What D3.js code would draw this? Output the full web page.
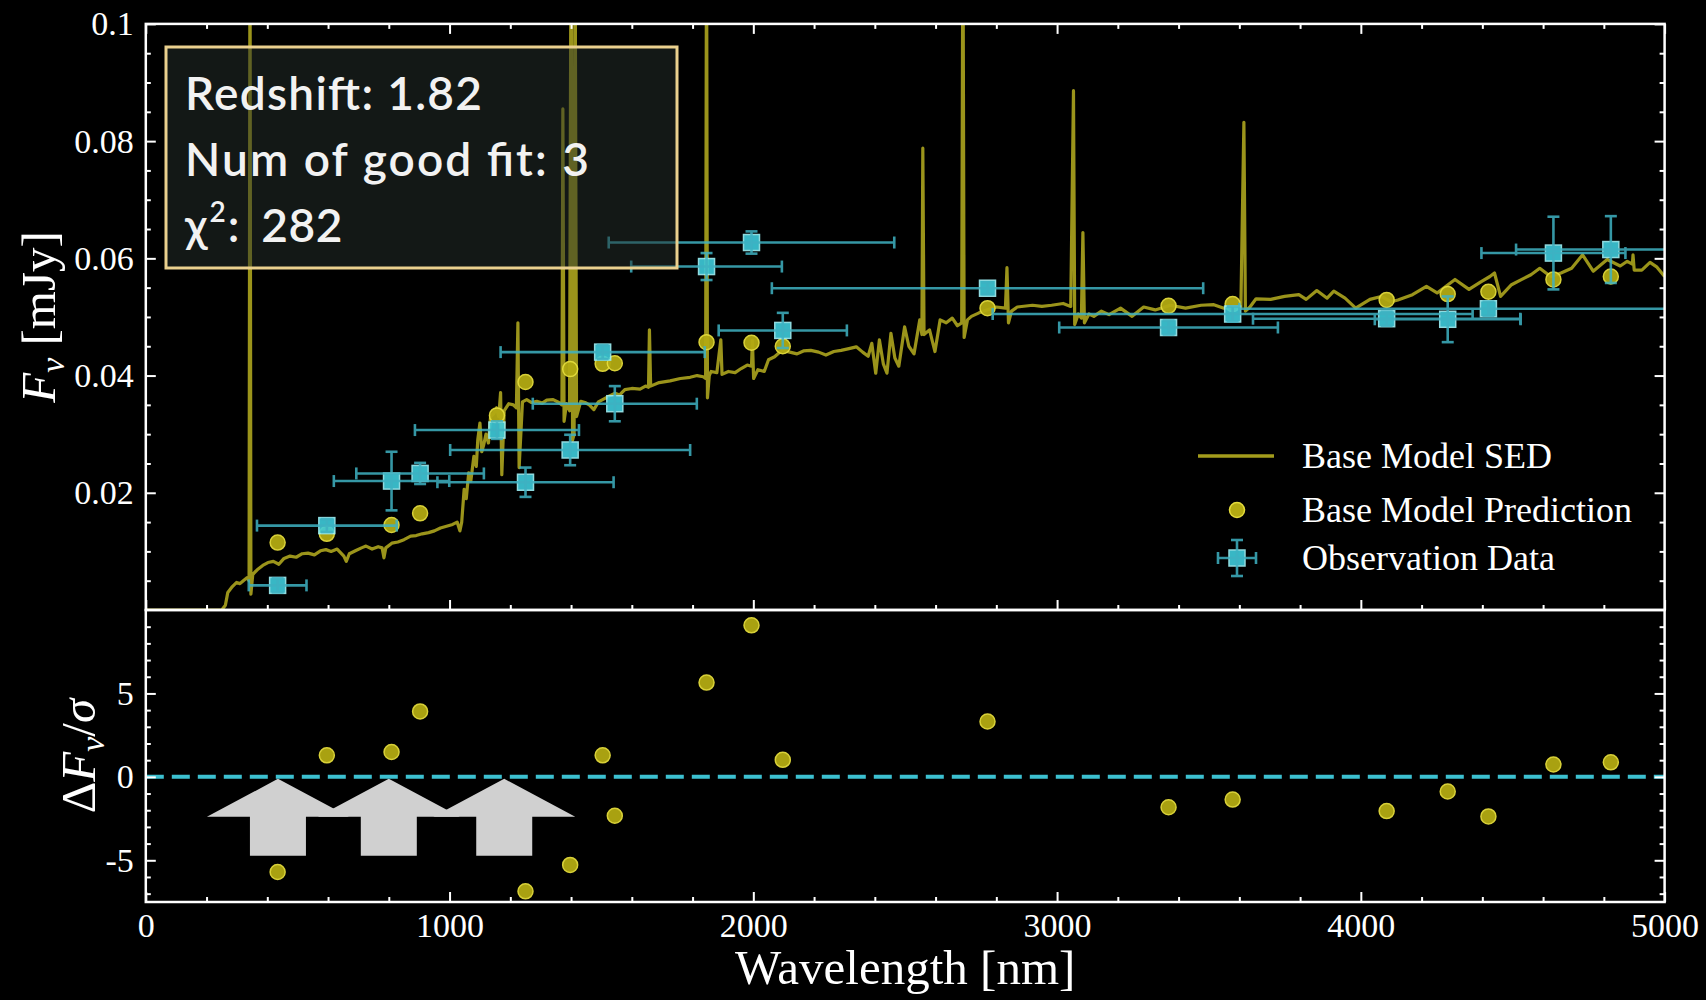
<!DOCTYPE html>
<html><head><meta charset="utf-8">
<script src="https://cdn.jsdelivr.net/npm/d3@7/dist/d3.min.js"></script>
<style>html,body{margin:0;padding:0;background:#000;} svg{display:block;}</style>
</head><body>
<svg id="chart" width="1706" height="1000"></svg>
<script>
// ---------------- DATA ----------------
const obsWavelength = [434, 596, 809, 903, 1156, 1250, 1397, 1504, 1544, 1846, 1994, 2097, 2771, 3367, 3578, 4085, 4286, 4420, 4634, 4823];
const obsFlux       = [0.0042, 0.0144, 0.0220, 0.0233, 0.0307, 0.0218, 0.0273, 0.0440, 0.0352, 0.0586, 0.0627, 0.0477, 0.0549, 0.0482, 0.0505, 0.0497, 0.0496, 0.0514, 0.0609, 0.0615];
const obsWidth      = [95, 230, 190, 210, 270, 290, 395, 336, 270, 248, 470, 211, 710, 360, 790, 440, 240, 820, 237, 312];
const obsError      = [0.0012, 0.0011, 0.0050, 0.0018, 0.0015, 0.0025, 0.0026, 0.0012, 0.0030, 0.0023, 0.0019, 0.0030, 0.0010, 0.0012, 0.0013, 0.0012, 0.0039, 0.0012, 0.0062, 0.0057];
const predFlux      = [0.0115, 0.0130, 0.0145, 0.0165, 0.0332, 0.0389, 0.0411, 0.0420, 0.0421, 0.0457, 0.0456, 0.0450, 0.0515, 0.0519, 0.0522, 0.0529, 0.0539, 0.0543, 0.0564, 0.0569];
const residual      = [-5.70, 1.29, 1.49, 3.92, -2.0, -6.86, -5.28, 1.29, -2.33, 5.65, 9.08, 1.02, 3.32, -1.82, -1.36, -2.05, -0.88, -2.37, 0.74, 0.87];

const sedWavelength = [0,250,262,270,285,299,310,321,333,340,343,346,352,358,370,385,402,420,438,455,475,495,515,534,555,575,593,610,630,652,660,670,690,710,725,745,765,778,784,790,810,830,850,872,890,910,931,950,970,990,1010,1025,1034,1040,1048,1055,1063,1070,1080,1088,1093,1100,1106,1112,1120,1128,1135,1145,1155,1162,1168,1172,1180,1195,1210,1220,1225,1229,1240,1254,1270,1287,1305,1320,1341,1360,1370,1373,1377,1385,1395,1400,1405,1410,1413,1418,1432,1446,1460,1475,1490,1504,1525,1545,1560,1577,1600,1627,1645,1655,1658,1662,1690,1726,1760,1792,1815,1835,1843,1846,1849,1855,1861,1880,1893,1897,1918,1940,1960,1980,1994,1997,2001,2015,2036,2050,2070,2094,2120,2144,2165,2189,2215,2239,2265,2289,2315,2339,2360,2378,2390,2403,2415,2428,2440,2453,2466,2479,2498,2512,2529,2548,2555,2558,2562,2580,2598,2615,2635,2655,2672,2686,2690,2694,2705,2718,2743,2769,2800,2830,2835,2840,2850,2869,2919,2950,2982,3020,3045,3054,3058,3070,3080,3085,3090,3105,3121,3146,3171,3209,3247,3285,3323,3373,3423,3474,3516,3549,3580,3605,3615,3620,3635,3655,3703,3749,3796,3820,3855,3889,3911,3948,3983,4030,4067,4100,4122,4170,4216,4251,4310,4356,4395,4425,4440,4460,4496,4530,4560,4589,4625,4659,4694,4730,4765,4811,4854,4877,4894,4896,4900,4925,4952,4975,5000];
const sedFlux = [0,0,0.0008,0.0030,0.0040,0.0047,0.0045,0.0050,0.0055,0.0050,0.1200,0.0027,0.0060,0.0064,0.0070,0.0076,0.0081,0.0083,0.0078,0.0088,0.0092,0.0090,0.0096,0.0097,0.0094,0.0101,0.0103,0.0100,0.0104,0.0092,0.0083,0.0096,0.0101,0.0106,0.0109,0.0104,0.0108,0.0106,0.0089,0.0106,0.0114,0.0116,0.0120,0.0126,0.0127,0.0130,0.0132,0.0135,0.0140,0.0143,0.0146,0.0150,0.0135,0.0150,0.0206,0.0190,0.0234,0.0220,0.0262,0.0245,0.0291,0.0319,0.0270,0.0281,0.0300,0.0285,0.0330,0.0335,0.0345,0.0330,0.0371,0.0231,0.0340,0.0352,0.0350,0.0345,0.0490,0.0243,0.0355,0.0359,0.0354,0.0356,0.0353,0.0358,0.0359,0.0354,0.0350,0.0855,0.0322,0.0352,0.0340,0.1200,0.0290,0.0300,0.1200,0.0330,0.0356,0.0354,0.0350,0.0342,0.0355,0.0359,0.0365,0.0370,0.0367,0.0376,0.0378,0.0377,0.0382,0.0380,0.0478,0.0382,0.0388,0.0391,0.0395,0.0397,0.0400,0.0398,0.0395,0.1200,0.0362,0.0400,0.0407,0.0405,0.0461,0.0402,0.0407,0.0405,0.0412,0.0418,0.0416,0.0460,0.0395,0.0410,0.0407,0.0427,0.0432,0.0443,0.0440,0.0437,0.0442,0.0443,0.0440,0.0435,0.0441,0.0443,0.0446,0.0449,0.0440,0.0433,0.0455,0.0404,0.0461,0.0420,0.0404,0.0472,0.0430,0.0416,0.0483,0.0450,0.0437,0.0495,0.0470,0.0788,0.0470,0.0478,0.0441,0.0495,0.0490,0.0498,0.0485,0.0490,0.1200,0.0465,0.0495,0.0501,0.0507,0.0512,0.0517,0.0515,0.0584,0.0490,0.0510,0.0517,0.0520,0.0518,0.0520,0.0523,0.0518,0.0886,0.0487,0.0505,0.0498,0.0644,0.0490,0.0505,0.0501,0.0510,0.0504,0.0515,0.0501,0.0517,0.0512,0.0520,0.0515,0.0520,0.0521,0.0515,0.0518,0.0515,0.0832,0.0510,0.0517,0.0531,0.0530,0.0535,0.0538,0.0530,0.0545,0.0532,0.0544,0.0532,0.0515,0.0530,0.0535,0.0526,0.0529,0.0538,0.0552,0.0541,0.0564,0.0547,0.0560,0.0569,0.0575,0.0535,0.0555,0.0564,0.0572,0.0583,0.0569,0.0575,0.0583,0.0606,0.0578,0.0598,0.0587,0.0595,0.0590,0.0606,0.0580,0.0580,0.0593,0.0585,0.0569];

const xTicks = [0, 1000, 2000, 3000, 4000, 5000];
const xTickLabels = ["0", "1000", "2000", "3000", "4000", "5000"];
const fluxTicks = [0.02, 0.04, 0.06, 0.08, 0.1];
const fluxTickLabels = ["0.02", "0.04", "0.06", "0.08", "0.1"];
const residTicks = [-5, 0, 5];
const residTickLabels = ["-5", "0", "5"];
const arrowWavelength = [435, 800, 1180];
const infoLines = ["Redshift: 1.82", "Num of good fit: 3"];
const chiValue = "282";
const legendLabels = ["Base Model SED", "Base Model Prediction", "Observation Data"];

// ---------------- LAYOUT ----------------
const L = 145.8, R = 1664.6, T = 23.9, M = 610, B = 902;
const svg = d3.select("#chart");
const x = d3.scaleLinear().domain([0, 5000]).range([L, R]);
const yF = d3.scaleLinear().domain([0, 0.1]).range([M, T]);
const yR = d3.scaleLinear().domain([-7.5, 10]).range([B, M]);

const SED_COL = "#a39c1c";
const PRED_FILL = "#b3aa12", PRED_STROKE = "#e4dc3c";
const OBS_FILL = "#3fcbdb", OBS_STROKE = "#9ff2f8", EB_COL = "#3fb2c2";
const serif = "'Liberation Serif','Times New Roman',Times,serif";

svg.append("rect").attr("width", 1706).attr("height", 1000).attr("fill", "#000");

const defs = svg.append("defs");
defs.append("clipPath").attr("id", "clipTop").append("rect")
  .attr("x", L).attr("y", T).attr("width", R - L).attr("height", M - T);
defs.append("clipPath").attr("id", "clipBot").append("rect")
  .attr("x", L).attr("y", M).attr("width", R - L).attr("height", B - M);

const idx = d3.range(obsWavelength.length);

// ---------------- TOP PANEL ----------------
const topG = svg.append("g").attr("clip-path", "url(#clipTop)");
const sedData = sedWavelength.map((w, i) => [w, sedFlux[i]]);
topG.append("path").datum(sedData)
  .attr("fill", "none").attr("stroke", SED_COL).attr("stroke-width", 3.2)
  .attr("stroke-linejoin", "round").attr("opacity", 0.95)
  .attr("d", d3.line().x(d => x(d[0])).y(d => yF(d[1])));

topG.selectAll("circle.pred").data(idx).join("circle").attr("class", "pred")
  .attr("cx", i => x(obsWavelength[i])).attr("cy", i => yF(predFlux[i])).attr("r", 7.5)
  .attr("fill", PRED_FILL).attr("stroke", PRED_STROKE).attr("stroke-width", 1.5).attr("opacity", 0.95);

const obsG = topG.append("g");
obsG.selectAll("rect.obs").data(idx).join("rect").attr("class", "obs")
  .attr("x", i => x(obsWavelength[i]) - 8).attr("y", i => yF(obsFlux[i]) - 8)
  .attr("width", 16).attr("height", 16)
  .attr("fill", OBS_FILL).attr("stroke", OBS_STROKE).attr("stroke-width", 1.5).attr("opacity", 0.9);
const eb = obsG.append("g").attr("stroke", EB_COL).attr("stroke-width", 2.6).attr("opacity", 0.85).attr("fill", "none");
idx.forEach(i => {
  const cx = x(obsWavelength[i]), cy = yF(obsFlux[i]);
  const x0 = x(obsWavelength[i] - obsWidth[i]), x1 = x(obsWavelength[i] + obsWidth[i]);
  const y0 = yF(obsFlux[i] - obsError[i]), y1 = yF(obsFlux[i] + obsError[i]);
  eb.append("line").attr("x1", x0).attr("x2", x1).attr("y1", cy).attr("y2", cy);
  eb.append("line").attr("x1", x0).attr("x2", x0).attr("y1", cy - 6).attr("y2", cy + 6);
  eb.append("line").attr("x1", x1).attr("x2", x1).attr("y1", cy - 6).attr("y2", cy + 6);
  eb.append("line").attr("x1", cx).attr("x2", cx).attr("y1", y0).attr("y2", y1);
  eb.append("line").attr("x1", cx - 6).attr("x2", cx + 6).attr("y1", y0).attr("y2", y0);
  eb.append("line").attr("x1", cx - 6).attr("x2", cx + 6).attr("y1", y1).attr("y2", y1);
});

// ---------------- BOTTOM PANEL ----------------
const botG = svg.append("g").attr("clip-path", "url(#clipBot)");
botG.append("line").attr("x1", L).attr("x2", R).attr("y1", yR(0)).attr("y2", yR(0))
  .attr("stroke", "#3cc0d0").attr("stroke-width", 4).attr("stroke-dasharray", "18,8");
botG.selectAll("circle.res").data(idx).join("circle").attr("class", "res")
  .attr("cx", i => x(obsWavelength[i])).attr("cy", i => yR(residual[i])).attr("r", 7.5)
  .attr("fill", PRED_FILL).attr("stroke", PRED_STROKE).attr("stroke-width", 1.5).attr("opacity", 0.95);

// highlight arrows
const arrowG = svg.append("g").attr("fill", "#d0d0d0");
arrowWavelength.forEach(w => {
  const tx = x(w), ty = yR(0) + 2;
  const pts = [[tx, ty], [tx + 71, ty + 38], [tx + 28, ty + 38], [tx + 28, ty + 77],
               [tx - 28, ty + 77], [tx - 28, ty + 38], [tx - 71, ty + 38]];
  arrowG.append("polygon").attr("points", pts.map(p => p.join(",")).join(" "));
});

// ---------------- AXES ----------------
function styleAxis(g) {
  g.attr("font-family", null).attr("font-size", null);
  g.select(".domain").remove();
  g.selectAll(".tick line").attr("stroke", "#fff").attr("stroke-width", 2);
  g.selectAll(".tick text").attr("fill", "#fff")
    .style("font-family", serif).style("font-size", "34px");
}
const xMinor = d3.range(0, 5001, 200).filter(v => v % 1000 !== 0);
const fMinor = d3.range(0.005, 0.1, 0.005).filter(v => Math.abs(v / 0.02 - Math.round(v / 0.02)) > 1e-6);
const rMinor = d3.range(-7, 10, 1).filter(v => v % 5 !== 0);

[[M, d3.axisBottom], [T, d3.axisTop]].forEach(([yy, ax]) => {
  svg.append("g").attr("transform", `translate(0,${yy})`).call(ax(x).tickValues(xTicks).tickSize(-10).tickFormat("")).call(styleAxis);
  svg.append("g").attr("transform", `translate(0,${yy})`).call(ax(x).tickValues(xMinor).tickSize(-5).tickFormat("")).call(styleAxis);
});
svg.append("g").attr("transform", `translate(${L},0)`)
  .call(d3.axisLeft(yF).tickValues(fluxTicks).tickSize(-10).tickPadding(12).tickFormat((d, i) => fluxTickLabels[i])).call(styleAxis);
svg.append("g").attr("transform", `translate(${L},0)`)
  .call(d3.axisLeft(yF).tickValues(fMinor).tickSize(-5).tickFormat("")).call(styleAxis);
svg.append("g").attr("transform", `translate(${R},0)`)
  .call(d3.axisRight(yF).tickValues(fluxTicks).tickSize(-10).tickFormat("")).call(styleAxis);
svg.append("g").attr("transform", `translate(${R},0)`)
  .call(d3.axisRight(yF).tickValues(fMinor).tickSize(-5).tickFormat("")).call(styleAxis);

svg.append("g").attr("transform", `translate(0,${B})`)
  .call(d3.axisBottom(x).tickValues(xTicks).tickSize(-10).tickPadding(11).tickFormat((d, i) => xTickLabels[i])).call(styleAxis);
svg.append("g").attr("transform", `translate(0,${B})`)
  .call(d3.axisBottom(x).tickValues(xMinor).tickSize(-5).tickFormat("")).call(styleAxis);
svg.append("g").attr("transform", `translate(${L},0)`)
  .call(d3.axisLeft(yR).tickValues(residTicks).tickSize(-10).tickPadding(12).tickFormat((d, i) => residTickLabels[i])).call(styleAxis);
svg.append("g").attr("transform", `translate(${L},0)`)
  .call(d3.axisLeft(yR).tickValues(rMinor).tickSize(-5).tickFormat("")).call(styleAxis);
svg.append("g").attr("transform", `translate(${R},0)`)
  .call(d3.axisRight(yR).tickValues(residTicks).tickSize(-10).tickFormat("")).call(styleAxis);
svg.append("g").attr("transform", `translate(${R},0)`)
  .call(d3.axisRight(yR).tickValues(rMinor).tickSize(-5).tickFormat("")).call(styleAxis);

svg.append("rect").attr("x", L).attr("y", T).attr("width", R - L).attr("height", M - T)
  .attr("fill", "none").attr("stroke", "#fff").attr("stroke-width", 2.5);
svg.append("rect").attr("x", L).attr("y", M).attr("width", R - L).attr("height", B - M)
  .attr("fill", "none").attr("stroke", "#fff").attr("stroke-width", 2.5);

// ---------------- LABELS ----------------
svg.append("text").attr("x", (L + R) / 2).attr("y", 984).attr("text-anchor", "middle")
  .attr("fill", "#fff").style("font-family", serif).style("font-size", "49px").text("Wavelength [nm]");

const yl1 = svg.append("text").attr("transform", `translate(55,${(T + M) / 2}) rotate(-90)`)
  .attr("text-anchor", "middle").attr("fill", "#fff").style("font-family", serif).style("font-size", "49px");
yl1.append("tspan").attr("font-style", "italic").text("F");
yl1.append("tspan").attr("font-style", "italic").style("font-size", "34px").attr("dy", 9).text("ν");
yl1.append("tspan").attr("dy", -9).text(" [mJy]");

const yl2 = svg.append("text").attr("transform", `translate(95,${(M + B) / 2}) rotate(-90)`)
  .attr("text-anchor", "middle").attr("fill", "#fff").style("font-family", serif).style("font-size", "49px");
yl2.append("tspan").text("Δ");
yl2.append("tspan").attr("font-style", "italic").text("F");
yl2.append("tspan").attr("font-style", "italic").style("font-size", "34px").attr("dy", 9).text("ν");
yl2.append("tspan").attr("dy", -9).text("/");
yl2.append("tspan").attr("font-style", "italic").text("σ");

// ---------------- INFO BOX ----------------
svg.append("rect").attr("x", 166).attr("y", 47).attr("width", 511).attr("height", 221)
  .attr("fill", "#26302c").attr("fill-opacity", 0.5);
svg.append("rect").attr("x", 166).attr("y", 47).attr("width", 511).attr("height", 221)
  .attr("fill", "none").attr("stroke", "#ead08e").attr("stroke-width", 3);
const boxFont = "Lato, 'Noto Sans', sans-serif";
const infoWidths = [297, 404];
infoLines.forEach((t, i) => {
  svg.append("text").attr("x", 185).attr("y", 110 + i * 66).attr("fill", "#f2f2f2")
    .style("font-family", boxFont).style("font-size", "46px").style("font-weight", 600)
    .attr("textLength", infoWidths[i]).attr("lengthAdjust", "spacing").text(t);
});
const chi = svg.append("text").attr("x", 185).attr("y", 242).attr("fill", "#f2f2f2")
  .style("font-family", boxFont).style("font-size", "46px").style("font-weight", 600);
chi.append("tspan").text("χ");
chi.append("tspan").style("font-size", "28px").attr("dy", -20).attr("dx", 2).text("2");
chi.append("tspan").attr("dy", 20).attr("dx", 2).text(":");
chi.append("tspan").attr("dx", 10).attr("textLength", 93).attr("lengthAdjust", "spacing").text(" " + chiValue);

// ---------------- LEGEND ----------------
const lg = svg.append("g");
const lgX = 1237, lgTextX = 1302, lgY = [456, 510, 558];
lg.append("line").attr("x1", lgX - 39).attr("x2", lgX + 37).attr("y1", lgY[0]).attr("y2", lgY[0])
  .attr("stroke", SED_COL).attr("stroke-width", 3.5);
lg.append("circle").attr("cx", lgX).attr("cy", lgY[1]).attr("r", 7.5)
  .attr("fill", PRED_FILL).attr("stroke", PRED_STROKE).attr("stroke-width", 1.5);
lg.append("rect").attr("x", lgX - 8).attr("y", lgY[2] - 8).attr("width", 16).attr("height", 16)
  .attr("fill", OBS_FILL).attr("stroke", OBS_STROKE).attr("stroke-width", 1.5).attr("opacity", 0.9);
const lgEb = lg.append("g").attr("stroke", EB_COL).attr("stroke-width", 2.6).attr("opacity", 0.85);
lgEb.append("line").attr("x1", lgX - 19).attr("x2", lgX + 19).attr("y1", lgY[2]).attr("y2", lgY[2]);
lgEb.append("line").attr("x1", lgX).attr("x2", lgX).attr("y1", lgY[2] - 18).attr("y2", lgY[2] + 18);
lgEb.append("line").attr("x1", lgX - 19).attr("x2", lgX - 19).attr("y1", lgY[2] - 6).attr("y2", lgY[2] + 6);
lgEb.append("line").attr("x1", lgX + 19).attr("x2", lgX + 19).attr("y1", lgY[2] - 6).attr("y2", lgY[2] + 6);
lgEb.append("line").attr("x1", lgX - 6).attr("x2", lgX + 6).attr("y1", lgY[2] - 18).attr("y2", lgY[2] - 18);
lgEb.append("line").attr("x1", lgX - 6).attr("x2", lgX + 6).attr("y1", lgY[2] + 18).attr("y2", lgY[2] + 18);
legendLabels.forEach((t, i) => {
  lg.append("text").attr("x", lgTextX).attr("y", lgY[i] + 12).attr("fill", "#fff")
    .style("font-family", serif).style("font-size", "36px").text(t);
});
</script>
</body></html>
